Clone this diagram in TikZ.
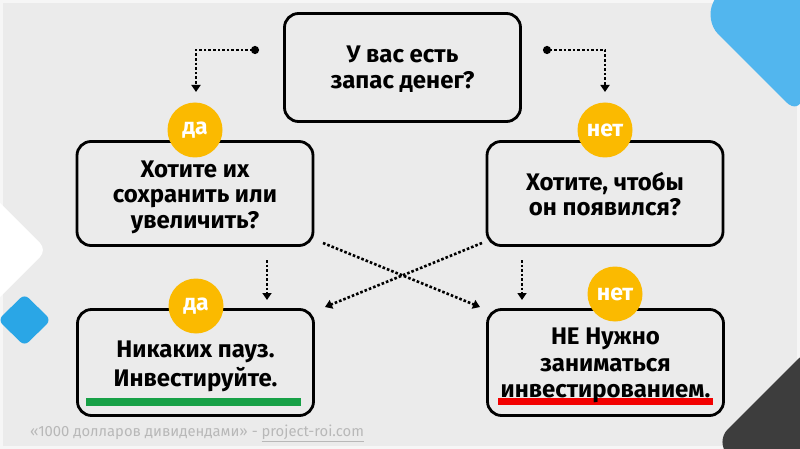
\documentclass[tikz,border=0pt]{standalone}
\usepackage{fontspec}
\setmainfont{Fira Sans}
\usetikzlibrary{arrows.meta}
\definecolor{bgc}{HTML}{EBEBEB}
\definecolor{framec}{HTML}{F6F6F6}
\definecolor{yel}{HTML}{FBBA00}
\definecolor{blueA}{HTML}{52B6EE}
\definecolor{blueB}{HTML}{2AA6E6}
\definecolor{darkc}{HTML}{3D3D3D}
\definecolor{greenc}{HTML}{17A046}
\definecolor{redc}{HTML}{F20000}
\definecolor{footc}{HTML}{B8B8B8}
\newcommand{\lift}[1]{\rule{0pt}{#1}}
\begin{document}
\begin{tikzpicture}[x=1pt,y=-1pt,
  box/.style={draw=black,line width=2.8pt,rounded corners=14pt,minimum width=236pt,
    minimum height=106pt,inner sep=0pt,align=center,
    font=\fontsize{24}{26.5}\selectfont\bfseries},
  badge/.style={circle,fill=yel,minimum size=55pt,inner sep=0pt,text=white,
    font=\fontsize{23}{23}\selectfont\bfseries},
  conn/.style={line width=2.6pt,dash pattern=on 2.6pt off 2pt,
    -{Triangle[width=9pt,length=7pt]}},
  startdot/.style={{Circle[length=8pt]}-{Triangle[width=9pt,length=7pt]}},
]
\useasboundingbox (0,0) rectangle (800,449);
\clip (0,0) rectangle (800,449);
% background
\fill[bgc] (0,0) rectangle (800,449);
\draw[framec,line width=3pt] (1.5,1.5) rectangle (798.5,447.5);
\fill[blueA,rounded corners=20pt] (725,-20) -- (704,20) -- (800,116) -- (820,-20) -- cycle;
\fill[white,rounded corners=10pt] (-10,193) -- (47,250) -- (-10,307) -- cycle;
\fill[blueB,rounded corners=6pt] (24.5,294) -- (51,320) -- (24.5,346) -- (-2,320) -- cycle;
\fill[darkc,rounded corners=18pt] (810,347) -- (715,442) -- (800,527) -- (830,500) -- cycle;
% highlight bars
\fill[greenc] (86,398) rectangle (301,406);
\fill[redc] (498,398) rectangle (713,405);
% boxes
\node[box,minimum height=108pt,font=\fontsize{24}{26}\selectfont\bfseries] (q1) at (402.5,67.5)
  {\lift{20.5pt}У вас есть\\запас денег?};
\node[box,minimum height=104pt,font=\fontsize{24}{25.5}\selectfont\bfseries] (q2) at (195,193.5)
  {\lift{23.5pt}Хотите их\\сохранить или\\увеличить?};
\node[box,minimum height=104pt,font=\fontsize{24}{25.5}\selectfont\bfseries] (q3) at (605,193.5)
  {\lift{19pt}Хотите, чтобы\\он появился?};
\node[box,font=\fontsize{24}{29}\selectfont\bfseries] (a1) at (195.5,362.5)
  {\lift{25pt}Никаких пауз.\\Инвестируйте.};
\node[box] (a2) at (605.5,362.5) {\lift{23pt}НЕ Нужно\\заниматься\\инвестированием.};
% badges
\node[badge] (b1) at (195,130) {да};
\node[badge] (b2) at (605,130) {нет};
\node[badge] (b3) at (196,306) {да};
\node[badge] (b4) at (615,294) {нет};
% connectors
\coordinate (s1) at (259,50);
\coordinate (e1) at (196,92);
\coordinate (s2) at (543,50);
\coordinate (e2) at (605,92);
\coordinate (s3) at (267,260);
\coordinate (e3) at (267,300);
\coordinate (s4) at (522,260);
\coordinate (e4) at (522,300);
\coordinate (s5) at (323,243);
\coordinate (e5) at (480,307);
\coordinate (s6) at (482,243);
\coordinate (e6) at (325,307);
\draw[conn,startdot] (s1) -| (e1);
\draw[conn,startdot] (s2) -| (e2);
\draw[conn] (s3) -- (e3);
\draw[conn] (s4) -- (e4);
\draw[conn] (s5) -- (e5);
\draw[conn] (s6) -- (e6);
% footer
\node[anchor=west,text=footc,inner sep=0pt,font=\fontsize{14.8}{14.8}\selectfont] (foot) at (30,433)
  {«1000 долларов дивидендами» - \underline{project-roi.com}};
\end{tikzpicture}
\end{document}
